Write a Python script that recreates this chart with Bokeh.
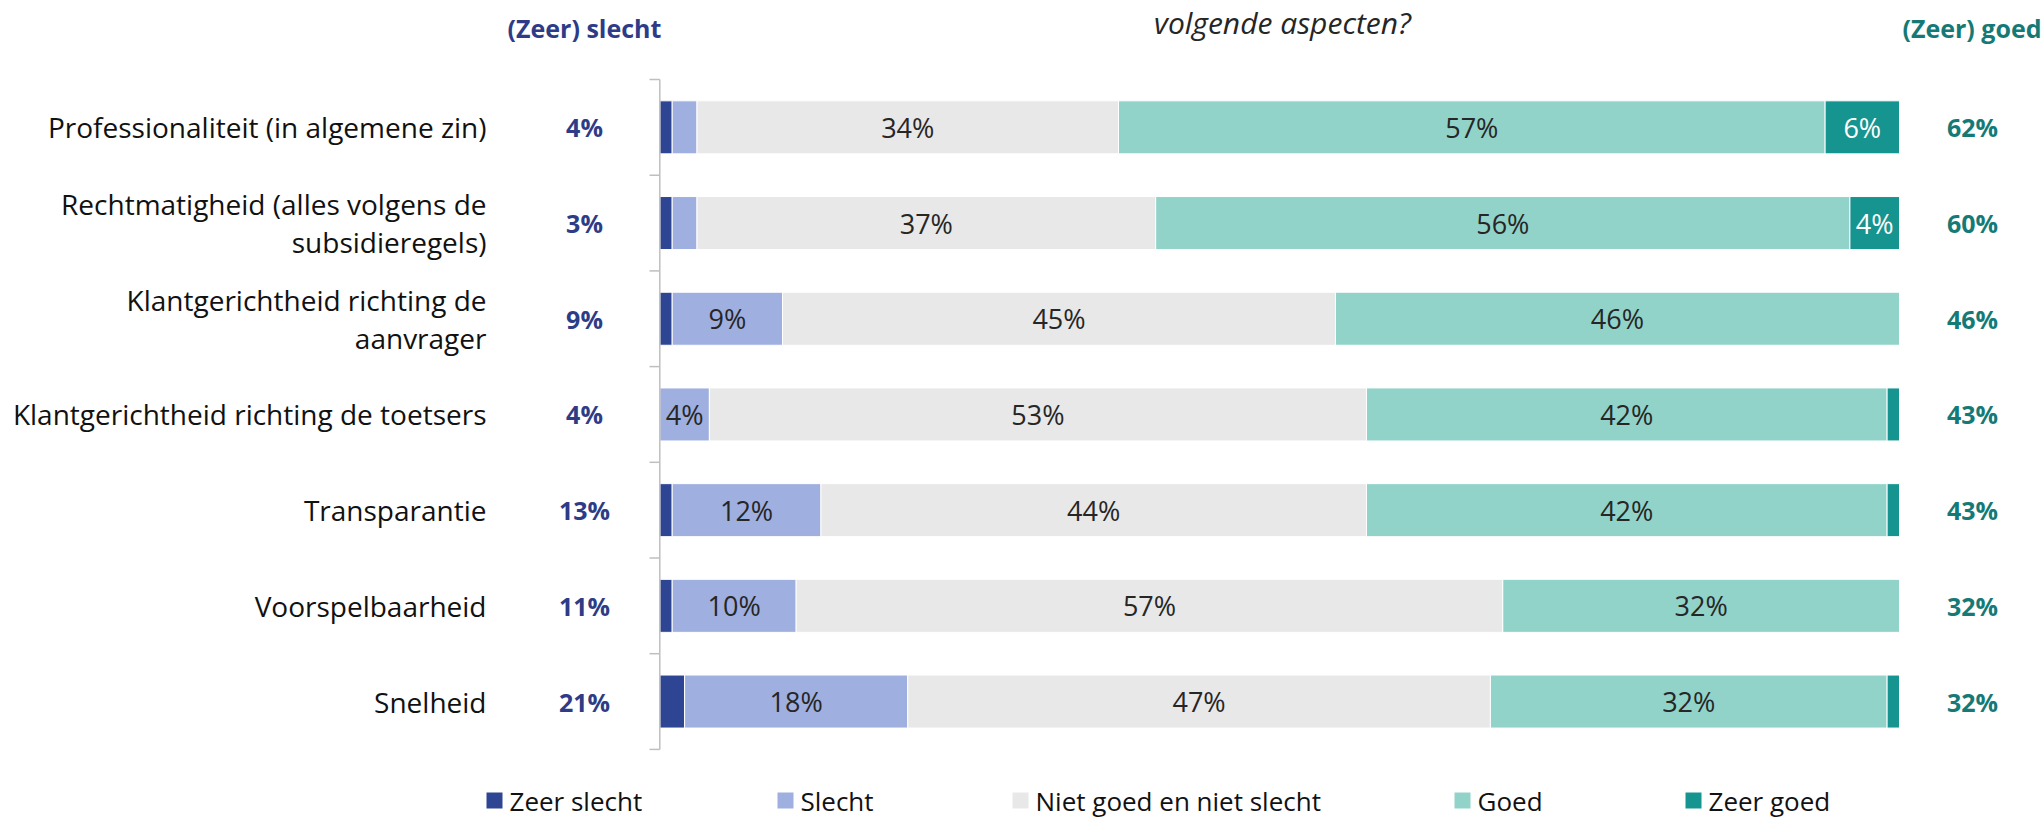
from bokeh.plotting import figure
from bokeh.models import Range1d, ColumnDataSource
from bokeh.core.properties import value
from bokeh.embed import file_html
from bokeh.resources import INLINE

# ---------------- data ----------------
categories = [
    "Professionaliteit (in algemene zin)",
    "Rechtmatigheid (alles volgens de\nsubsidieregels)",
    "Klantgerichtheid richting de\naanvrager",
    "Klantgerichtheid richting de toetsers",
    "Transparantie",
    "Voorspelbaarheid",
    "Snelheid",
]
series_names = ["Zeer slecht", "Slecht", "Niet goed en niet slecht", "Goed", "Zeer goed"]
zeer_slecht = [1, 1, 1, 0, 1, 1, 2]
slecht = [2, 2, 8.9, 4, 12, 10, 18]
niet_goed_niet_slecht = [34, 37, 44.6, 53, 44, 57, 47]
goed = [57, 56, 45.5, 42, 42, 32, 32]
zeer_goed = [6, 4, 0, 1, 1, 0, 1]
totaal_slecht = [4, 3, 9, 4, 13, 11, 21]
totaal_goed = [62, 60, 46, 43, 43, 32, 32]
title_text = "volgende aspecten?"
header_left = "(Zeer) slecht"
header_right = "(Zeer) goed"

# ---------------- style ----------------
colors = ["#2E4593", "#9FAFE0", "#E8E8E8", "#91D3C9", "#159490"]
label_colors = ["#FFFFFF", "#262626", "#262626", "#262626", "#FFFFFF"]
left_color = "#2E3C87"
right_color = "#157A75"
FONT = "Open Sans"

W, H = 2044, 822
PX_PER_PCT = 12.397
ROW_PX = 95.7
X0 = -659.3 / PX_PER_PCT
X1 = X0 + W / PX_PER_PCT
Y_TOP = -126.85 / ROW_PX
Y_BOT = Y_TOP + H / ROW_PX


def px(page_x):
    return X0 + page_x / PX_PER_PCT


def py(page_y):
    return Y_TOP + page_y / ROW_PX


p = figure(width=W, height=H, x_range=Range1d(X0, X1), y_range=Range1d(Y_BOT, Y_TOP),
           output_backend="svg", toolbar_location=None, min_border=0,
           x_axis_location=None, y_axis_location=None)
p.grid.visible = False
p.outline_line_color = None
p.background_fill_color = "white"

rows = list(range(len(categories)))
series = [zeer_slecht, slecht, niet_goed_niet_slecht, goed, zeer_goed]
BAR_H = 0.554

cum = [0.0] * len(rows)
lab_x, lab_y, lab_t, lab_c = [], [], [], []
for si, vals in enumerate(series):
    ys, lefts, rights = [], [], []
    for r in rows:
        v = vals[r]
        if v > 0:
            ys.append(r)
            lefts.append(cum[r])
            rights.append(cum[r] + v)
            if v >= 3.5:
                lab_x.append(cum[r] + v / 2)
                lab_y.append(r)
                lab_t.append(f"{v:.0f}%")
                lab_c.append(label_colors[si])
        cum[r] += v
    src = ColumnDataSource(dict(y=ys, left=lefts, right=rights))
    p.hbar(y="y", left="left", right="right", height=BAR_H, source=src,
           fill_color=colors[si], line_color="white", line_width=1)

p.text(x="x", y="y", text="t", text_color="c",
       source=ColumnDataSource(dict(x=lab_x, y=lab_y, t=lab_t, c=lab_c)),
       text_font=value(FONT), text_font_size="27px",
       text_align="center", text_baseline="middle")

# axis line with ticks at category boundaries
p.segment(x0=[0], y0=[-0.5], x1=[0], y1=[len(rows) - 0.5], line_color="#BFBFBF", line_width=1.5)
bounds = [k - 0.5 for k in range(len(rows) + 1)]
p.segment(x0=[px(649)] * len(bounds), y0=bounds, x1=[0] * len(bounds), y1=bounds,
          line_color="#BFBFBF", line_width=1.5)

# category labels
p.text(x=[px(486)] * len(rows), y=rows, text=categories, text_color="#111111",
       text_font=value(FONT), text_font_size="28px", text_align="right",
       text_baseline="middle", text_line_height=1.0)

# totals
p.text(x=[px(584)] * len(rows), y=rows, text=[f"{v}%" for v in totaal_slecht],
       text_color=left_color, text_font=value(FONT), text_font_size="25px",
       text_font_style="bold", text_align="center", text_baseline="middle")
p.text(x=[px(1972)] * len(rows), y=rows, text=[f"{v}%" for v in totaal_goed],
       text_color=right_color, text_font=value(FONT), text_font_size="25px",
       text_font_style="bold", text_align="center", text_baseline="middle")

# headers
p.text(x=[px(584)], y=[py(27)], text=[header_left], text_color=left_color,
       text_font=value(FONT), text_font_size="25px", text_font_style="bold",
       text_align="center", text_baseline="middle")
p.text(x=[px(2041)], y=[py(27)], text=[header_right], text_color=right_color,
       text_font=value(FONT), text_font_size="25px", text_font_style="bold",
       text_align="right", text_baseline="middle")

# title (partial line, as in reference)
p.text(x=[px(1282)], y=[py(22)], text=[title_text], text_color="#262626",
       text_font=value(FONT), text_font_size="30px", text_font_style="italic",
       text_align="center", text_baseline="middle")

# legend
legend_left_px = [486, 777, 1012, 1454, 1685]
leg_y = py(800)
p.scatter(x=[px(v + 8) for v in legend_left_px], y=[leg_y] * 5, marker="square",
          size=16, fill_color=colors, line_color=None)
p.text(x=[px(v + 23) for v in legend_left_px], y=[leg_y] * 5, text=series_names,
       text_color="#111111", text_font=value(FONT), text_font_size="26px",
       text_align="left", text_baseline="middle")

open("out.html", "w").write(file_html(p, INLINE))
